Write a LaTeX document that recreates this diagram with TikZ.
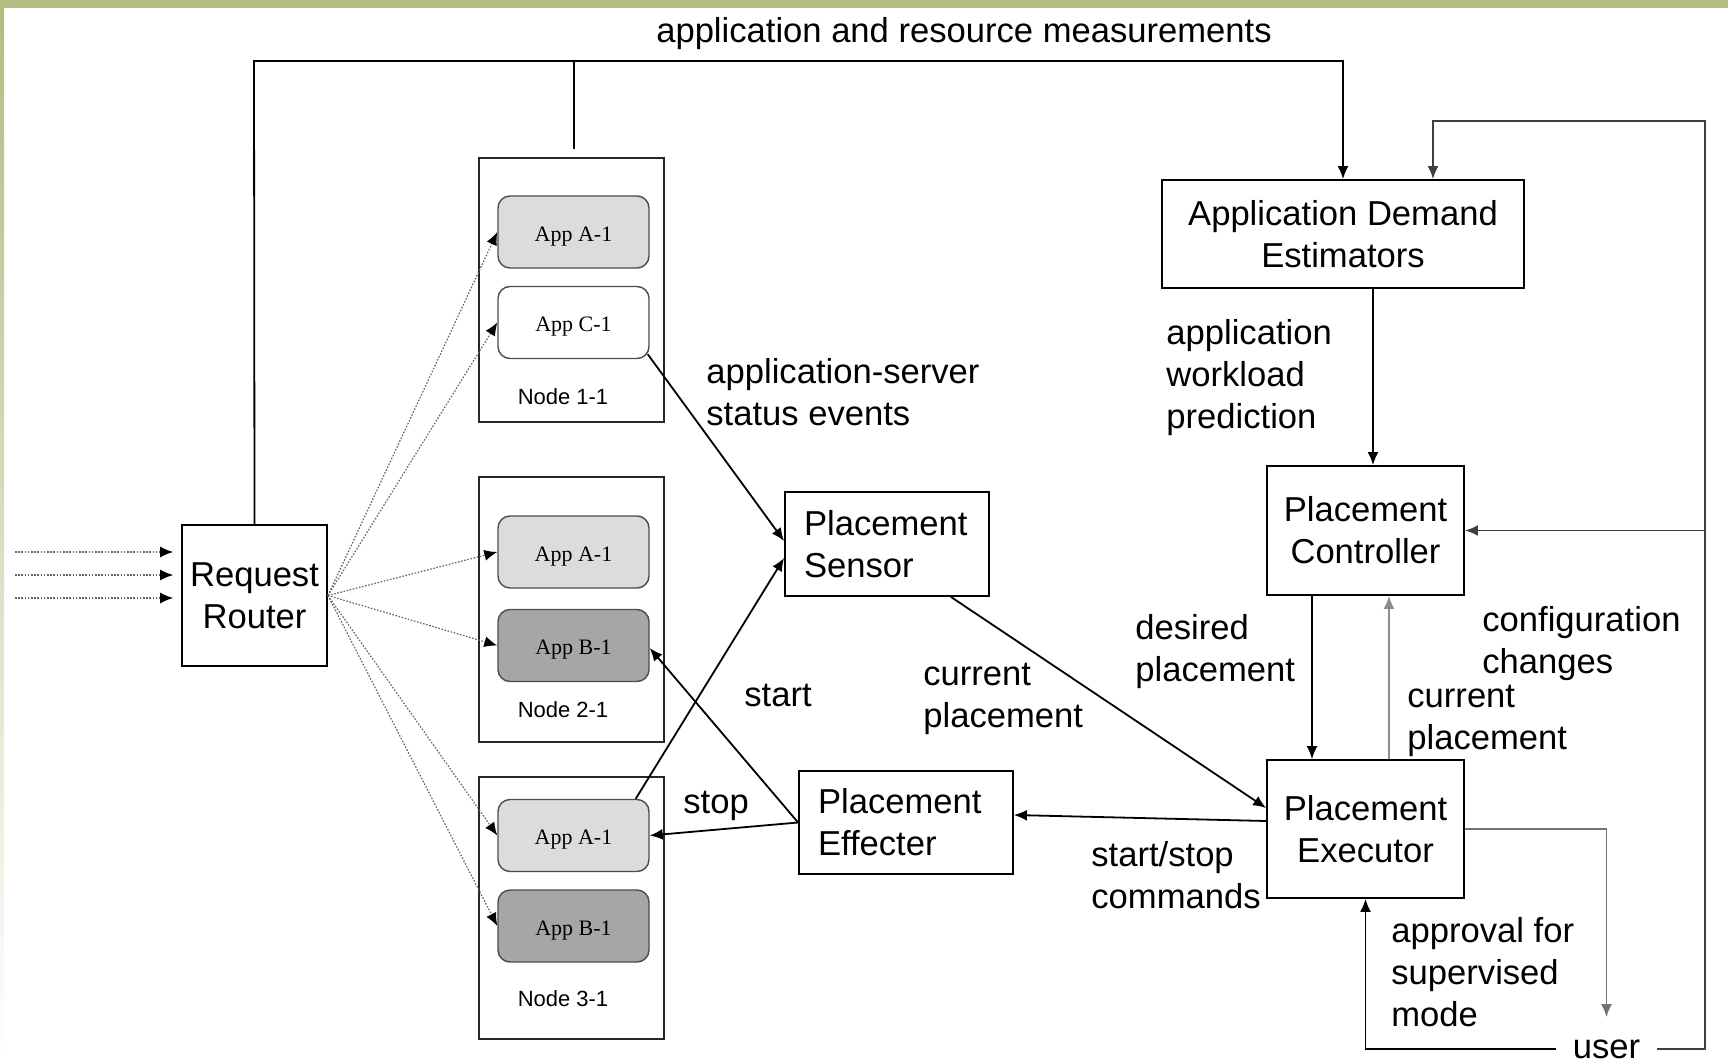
\documentclass[tikz,border=0pt]{standalone}
\usepackage{fontspec}
\setmainfont{Liberation Sans}
\newfontfamily\appfont{Liberation Serif}
\usetikzlibrary{arrows.meta,calc}
\definecolor{bordergreen}{RGB}{176,190,130}
\definecolor{applight}{RGB}{220,220,220}
\definecolor{appdark}{RGB}{166,166,166}

\begin{document}
\begin{tikzpicture}[x=0.5pt,y=-0.5pt]
\tikzstyle{every node}+=[inner sep=0pt]
\tikzstyle{blk}=[draw=black,line width=0.9pt,fill=white,font=\fontsize{17.3}{21}\selectfont,align=center]
\tikzstyle{lbl}=[anchor=west,align=left,font=\fontsize{17.3}{21}\selectfont]
\tikzstyle{hostbox}=[draw=black!85,line width=0.8pt,minimum width=92.5pt]
\tikzstyle{app}=[draw=black!70,line width=0.7pt,rounded corners=6pt,minimum width=75.5pt,minimum height=36pt,text height=9.4pt,text depth=0pt,font=\appfont\fontsize{11}{13}\selectfont]
\tikzstyle{hostlbl}=[font=\fontsize{11}{13}\selectfont]
\tikzstyle{arr}=[line width=0.9pt,-{Latex[length=6.5pt,width=5.5pt]}]
\tikzstyle{fan}=[black!60,line width=0.6pt,dash pattern=on 0.8pt off 0.8pt,-{Latex[length=6.5pt,width=5.5pt,black]}]
\fill[bordergreen] (0,0) rectangle (1728,8);
\shade[top color=bordergreen,bottom color=white] (0,8) rectangle (4,1064);
\useasboundingbox (0,0) rectangle (1728,1064);

\node[font=\fontsize{17.3}{21}\selectfont] (title) at (964,34) {application and resource measurements};
\node[blk,minimum width=72.5pt,minimum height=70.5pt] (router) at (254.5,595.5) {Request\\Router};
\node[hostbox,minimum height=132pt] (host1) at (571.5,290) {};
\node[hostbox,minimum height=132.5pt] (host2) at (571.5,609.5) {};
\node[hostbox,minimum height=131pt] (host3) at (571.5,908) {};
\node[app,fill=applight] (h1a) at (573.5,232) {App A-1};
\node[app,fill=white] (h1c) at (573.5,322.5) {App C-1};
\node[app,fill=applight] (h2a) at (573.5,552) {App A-1};
\node[app,fill=appdark] (h2b) at (573.5,645.5) {App B-1};
\node[app,fill=applight] (h3a) at (573.5,835.5) {App A-1};
\node[app,fill=appdark] (h3b) at (573.5,926) {App B-1};
\node[hostlbl] (host1lbl) at (563,397) {Node 1-1};
\node[hostlbl] (host2lbl) at (563,710) {Node 2-1};
\node[hostlbl] (host3lbl) at (563,999) {Node 3-1};
\node[blk,minimum width=102pt,minimum height=52pt,text width=83pt,align=left] (ps) at (887,544) {Placement\\Sensor};
\node[blk,minimum width=107pt,minimum height=51.5pt,text width=88pt,align=left] (peff) at (906,822.5) {Placement\\Effecter};
\node[blk,minimum width=181pt,minimum height=54pt] (ade) at (1343,234) {Application Demand\\Estimators};
\node[blk,minimum width=98.5pt,minimum height=64.5pt] (pc) at (1365.5,530.5) {Placement\\Controller};
\node[blk,minimum width=98.5pt,minimum height=69pt] (pe) at (1365.5,829) {Placement\\Executor};
\node[font=\fontsize{17.3}{21}\selectfont,inner xsep=8pt,inner ysep=11pt] (user) at (1606.5,1049) {user};

\node[lbl] (asevents) at (706,392) {application-server\\status events};
\node[lbl] (startlbl) at (744,695) {start};
\node[lbl] (stoplbl) at (683,806) {stop};
\node[lbl] (curpl1) at (923,699) {current\\placement};
\node[lbl] (despl) at (1135,651.5) {desired\\placement};
\node[lbl] (confch) at (1482,643.5) {configuration\\changes};
\node[lbl] (curpl2) at (1407,720.5) {current\\placement};
\node[lbl] (sscmd) at (1091,875) {start/stop\\commands};
\node[lbl] (wlpred) at (1166,377.5) {application\\workload\\prediction};
\node[lbl] (approv) at (1391,972) {approval for\\supervised\\mode};

\coordinate (topl) at (254,61);
\draw[arr] (router.north) -- (topl) -| (ade.north);
\coordinate (stub) at ($(host1.north)+(2.5,-8)$);
\draw[line width=0.9pt] (stub) -- (stub |- topl);
\coordinate (pcin) at ($(pc.north)+(7.5,0)$);
\draw[arr] (pcin |- ade.south) -- (pcin);
\coordinate (pcout) at ($(pc.south)+(-53.5,0)$);
\draw[arr] (pcout) -- (pcout |- pe.north);
\coordinate (peup) at ($(pe.north)+(23.5,0)$);
\draw[arr,black!45] (peup) -- (peup |- pc.south);
\draw[arr,black!55] (pe.east) -| (user.north);
\draw[arr] (user.west) -| (pe.south);
\coordinate (loopr) at (1705,121);
\coordinate (adein) at ($(ade.north)+(90,0)$);
\draw[arr,black!75] (user.east) -| (loopr) -| (adein);
\draw[arr,black!75] (loopr |- pc.east) -- (pc.east);
\draw[arr] ($(ps.south east)+(-39,0)$) -- ($(pe.west)+(0,-21)$);
\draw[arr] ($(pe.west)+(0,-8)$) -- ($(peff.east)+(0,-7.5)$);
\draw[arr] (peff.west) -- ($(h2b.east)+(0,2.5)$);
\draw[arr] (peff.west) -- (h3a.east);
\draw[arr] ($(h3a.north east)+(-14,0)$) -- ($(ps.west)+(0,14)$);
\draw[arr] ($(h1c.south east)+(-2,-5)$) -- ($(ps.west)+(0,-3)$);
\foreach \app in {h1a,h1c,h2a,h2b,h3a,h3b}
  \draw[fan] (router.east) -- (\app.west);
\foreach \n/\y in {1/552,2/575,3/598} {
  \coordinate (in\n) at (15,\y);
  \draw[fan,shorten >=4pt] (in\n) -- (in\n -| router.west);
}
\end{tikzpicture}
\end{document}
